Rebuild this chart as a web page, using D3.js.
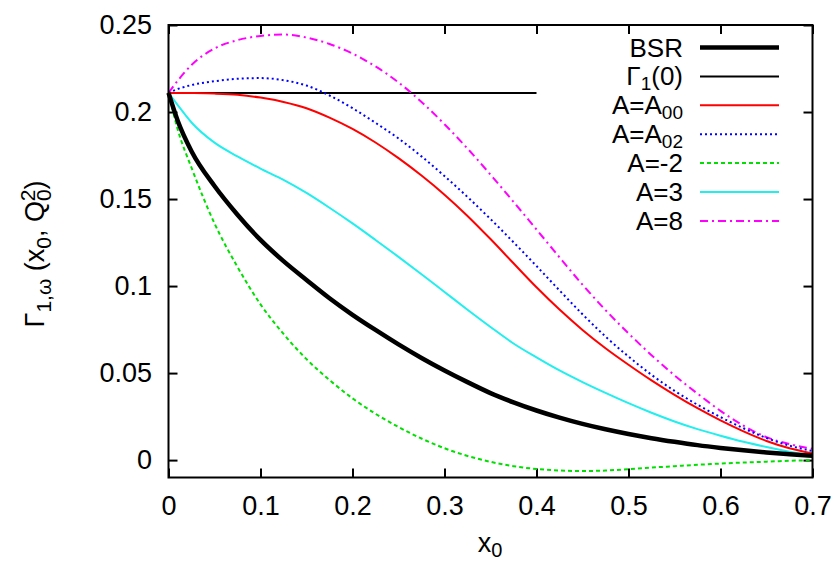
<!DOCTYPE html>
<html>
<head>
<meta charset="utf-8">
<script src="https://cdn.jsdelivr.net/npm/d3@7"></script>
<style>
  body { margin: 0; background: #fff; }
  svg { display: block; }
  .axis text { font-family: 'Liberation Sans', Arial, sans-serif; font-size: 27px; fill: #000; }
  .axis .domain { display: none; }
  .axis line { stroke: #000; stroke-width: 2; }
</style>
</head>
<body>
<svg id="chart" width="836" height="564"></svg>
<script>
'use strict';

// x0 sample points shared by every curve
var xs = [0, 0.01, 0.025, 0.05, 0.075, 0.1, 0.125, 0.15, 0.175, 0.2, 0.225, 0.25, 0.275, 0.3, 0.325,
          0.35, 0.375, 0.4, 0.425, 0.45, 0.475, 0.5, 0.525, 0.55, 0.575, 0.6, 0.625, 0.65, 0.675, 0.7];

// values
var bsr = [0.211, 0.195, 0.1775, 0.1575, 0.141, 0.1265, 0.1143, 0.1035, 0.093, 0.0835, 0.0748, 0.0665, 0.0587, 0.0515, 0.0448,
           0.0385, 0.0332, 0.0285, 0.0244, 0.0208, 0.0177, 0.015, 0.0126, 0.0105, 0.0086, 0.007, 0.0056, 0.0044, 0.0034, 0.0025];
var a00 = [0.211, 0.211, 0.2109, 0.2106, 0.2099, 0.2083, 0.2058, 0.2022, 0.1968, 0.1903, 0.1825, 0.1735, 0.1635, 0.1525, 0.1403,
           0.127, 0.1131, 0.0993, 0.0865, 0.0748, 0.0643, 0.0548, 0.0458, 0.0375, 0.0298, 0.0228, 0.0165, 0.011, 0.0068, 0.0038];
var a02 = [0.211, 0.2132, 0.2155, 0.2177, 0.2191, 0.2195, 0.2183, 0.2152, 0.2095, 0.2022, 0.1938, 0.1848, 0.1745, 0.1632, 0.1512,
           0.1385, 0.1252, 0.1115, 0.0975, 0.0838, 0.071, 0.0595, 0.049, 0.0398, 0.0318, 0.0247, 0.0183, 0.0127, 0.0083, 0.0052];
var aM2 = [0.211, 0.19, 0.168, 0.136, 0.111, 0.0895, 0.0725, 0.058, 0.046, 0.0355, 0.0266, 0.019, 0.0124, 0.0068, 0.0024,
           -0.001, -0.0035, -0.0051, -0.006, -0.0063, -0.006, -0.0052, -0.0043, -0.0035, -0.0027, -0.002, -0.0014, -0.0009, -0.0004, 0];
var a3  = [0.211, 0.204, 0.194, 0.1824, 0.1745, 0.1675, 0.161, 0.1535, 0.145, 0.136, 0.1265, 0.1168, 0.1068, 0.0966, 0.0864,
           0.0765, 0.067, 0.059, 0.0515, 0.0448, 0.0386, 0.0327, 0.0272, 0.0222, 0.0178, 0.014, 0.0105, 0.0075, 0.0048, 0.0025];
var a8  = [0.211, 0.218, 0.227, 0.2365, 0.2413, 0.2437, 0.2445, 0.2428, 0.2391, 0.2336, 0.2262, 0.217, 0.2058, 0.193, 0.179,
           0.164, 0.1484, 0.1325, 0.1165, 0.1008, 0.0862, 0.0728, 0.0603, 0.0487, 0.0382, 0.0283, 0.0198, 0.0132, 0.0092, 0.0065];

// Gamma_1(0) constant, drawn up to x0 = 0.4
var gammaX = [0, 0.4];
var gammaVal = 0.211;

var xTicks = [0, 0.1, 0.2, 0.3, 0.4, 0.5, 0.6, 0.7];
var yTicks = [0, 0.05, 0.1, 0.15, 0.2, 0.25];

var font = "'Liberation Sans', Arial, sans-serif";

var svg = d3.select('#chart');

var plotLeft = 168.5, plotRight = 812.5, plotTop = 25, plotBottom = 477.5;

var x = d3.scaleLinear().domain([0, 0.7]).range([plotLeft, plotRight]);
var y = d3.scaleLinear().domain([-0.01, 0.25]).range([plotBottom, plotTop]);

// axes, ticks pointing inwards like gnuplot
svg.append('g')
    .attr('class', 'axis')
    .attr('transform', 'translate(' + plotLeft + ',0)')
    .call(d3.axisLeft(y).tickValues(yTicks).tickSize(-9).tickPadding(16.5)
      .tickFormat(function(d) { return String(d); }));

svg.append('g')
    .attr('class', 'axis')
    .attr('transform', 'translate(0,' + plotBottom + ')')
    .call(d3.axisBottom(x).tickValues(xTicks).tickSize(-9).tickPadding(18)
      .tickFormat(function(d) { return String(d); }));

// mirrored ticks
svg.append('g')
    .attr('class', 'axis')
    .attr('transform', 'translate(' + plotRight + ',0)')
    .call(d3.axisRight(y).tickValues(yTicks).tickSize(-9).tickFormat(''));

svg.append('g')
    .attr('class', 'axis')
    .attr('transform', 'translate(0,' + plotTop + ')')
    .call(d3.axisTop(x).tickValues(xTicks).tickSize(-9).tickFormat(''));

var series = [
  { name: 'BSR',   vals: bsr, color: '#000000', width: 4.5, dash: null },
  { name: 'A00',   vals: a00, color: '#ff0000', width: 2,   dash: null },
  { name: 'A02',   vals: a02, color: '#0000ff', width: 2,   dash: '2,3' },
  { name: 'A=-2',  vals: aM2, color: '#00e000', width: 2,   dash: '4,3' },
  { name: 'A=3',   vals: a3,  color: '#22eeee', width: 2,   dash: null },
  { name: 'A=8',   vals: a8,  color: '#ff00ff', width: 2,   dash: '8,4,2,4' }
];

var line = d3.line()
    .x(function(d) { return x(d[0]); })
    .y(function(d) { return y(d[1]); })
    .curve(d3.curveMonotoneX);

// gamma_1(0) flat line
svg.append('path')
    .attr('d', line(gammaX.map(function(v) { return [v, gammaVal]; })))
    .attr('fill', 'none')
    .attr('stroke', '#000')
    .attr('stroke-width', 2);

// draw back to front so BSR sits on top like the original
series.slice().reverse().forEach(function(s) {
  svg.append('path')
    .attr('d', line(xs.map(function(v, i) { return [v, s.vals[i]]; })))
    .attr('fill', 'none')
    .attr('stroke', s.color)
    .attr('stroke-width', s.width)
    .attr('stroke-dasharray', s.dash);
});

// frame
svg.append('rect')
    .attr('x', plotLeft).attr('y', plotTop)
    .attr('width', plotRight - plotLeft).attr('height', plotBottom - plotTop)
    .attr('fill', 'none')
    .attr('stroke', '#000')
    .attr('stroke-width', 2);

// legend
var legendRows = [
  { main: 'BSR',  sub: null, color: '#000', width: 4.5, dash: null },
  { main: 'Γ',    sub: '1', tail: '(0)', color: '#000', width: 2, dash: null },
  { main: 'A=A',  sub: '00', color: '#ff0000', width: 2, dash: null },
  { main: 'A=A',  sub: '02', color: '#0000ff', width: 2, dash: '2,3' },
  { main: 'A=-2', sub: null, color: '#00e000', width: 2, dash: '4,3' },
  { main: 'A=3',  sub: null, color: '#22eeee', width: 2, dash: null },
  { main: 'A=8',  sub: null, color: '#ff00ff', width: 2, dash: '8,4,2,4' }
];

var leg = svg.append('g');
legendRows.forEach(function(r, i) {
  var ry = 47.5 + i * 28.9;
  var t = leg.append('text')
      .attr('x', 683).attr('y', ry + 9)
      .attr('text-anchor', 'end')
      .style('font-family', font)
      .style('font-size', '26px');
  t.append('tspan').text(r.main);
  if (r.sub) {
    t.append('tspan').attr('dy', 5).style('font-size', '19px').text(r.sub);
    if (r.tail) t.append('tspan').attr('dy', -5).text(r.tail);
  }
  leg.append('line')
      .attr('x1', 700).attr('x2', 779)
      .attr('y1', ry).attr('y2', ry)
      .attr('stroke', r.color)
      .attr('stroke-width', r.width)
      .attr('stroke-dasharray', r.dash);
});

// x label
var xl = svg.append('text')
    .attr('x', 490).attr('y', 552)
    .attr('text-anchor', 'middle')
    .style('font-family', font)
    .style('font-size', '27px');
xl.append('tspan').text('x');
xl.append('tspan').attr('dy', 5).style('font-size', '20px').text('0');

// y label: Gamma_{1,w}(x_0, Q_0^2), rotated
var yl = svg.append('text')
    .attr('transform', 'rotate(-90)')
    .attr('x', -254).attr('y', 44)
    .attr('text-anchor', 'middle')
    .style('font-family', font)
    .style('font-size', '27px');
yl.append('tspan').text('Γ');
yl.append('tspan').attr('dy', 7).style('font-size', '21px').text('1,ω');
yl.append('tspan').attr('dy', -7).text(' (x');
yl.append('tspan').attr('dy', 7).style('font-size', '21px').text('0');
yl.append('tspan').attr('dy', -7).text(', Q');
yl.append('tspan').attr('dy', 7).style('font-size', '21px').text('0');
yl.append('tspan').attr('dy', -16).attr('dx', -12).style('font-size', '21px').text('2');
yl.append('tspan').attr('dy', 9).text(')');
</script>
</body>
</html>
